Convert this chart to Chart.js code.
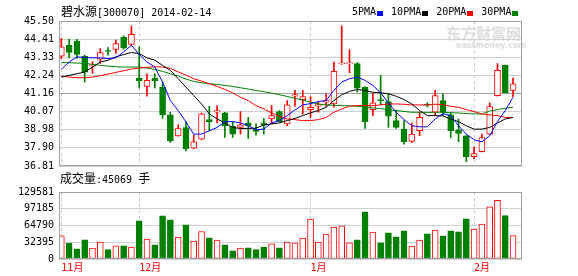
<!DOCTYPE html>
<html><head><meta charset="utf-8">
<script src="https://cdn.jsdelivr.net/npm/chart.js@4.4.0/dist/chart.umd.min.js"></script>
<style>
html,body{margin:0;padding:0;background:#fff;}
#wrap{position:relative;width:578px;height:276px;overflow:hidden;font-family:"DejaVu Sans Mono",monospace;color:#000;}
.t{position:absolute;white-space:nowrap;font-size:10px;line-height:12px;}
.cjk{font-family:"Noto Sans CJK SC";font-size:12px;}
#legend{position:absolute;left:352px;top:6px;display:flex;align-items:center;font-size:10px;line-height:12px;white-space:nowrap;}
#legend .it{display:flex;align-items:center;margin-right:8px;}
#legend .sq{display:inline-block;width:6px;height:5px;margin-left:1px;margin-top:2px;}
.wm{position:absolute;color:#dedede;font-weight:bold;white-space:nowrap;}
.box{position:absolute;left:0;width:578px;}
</style></head><body>
<div id="wrap">
  <div class="wm" style="left:446px;top:24px;font-family:'Noto Sans CJK SC';font-size:15px;line-height:18px;">东方财富网</div>
  <div class="wm" style="left:456px;top:41px;font-family:'DejaVu Sans';font-size:8px;line-height:10px;">eastmoney.com</div>
  <div class="box" style="top:0;height:177px"><canvas id="price"></canvas></div>
  <div class="box" style="top:181px;height:97px"><canvas id="vol"></canvas></div>
  <div class="t" id="title" style="left:61px;top:5px"></div>
  <div id="legend"></div>
  <div class="t" id="voltitle" style="left:60px;top:172px"></div>
</div>
<script>
// ---- data ----
const stockName = '碧水源';
const stockCode = '300070';
const dates = [
 '2013-11-18','2013-11-19','2013-11-20','2013-11-21','2013-11-22','2013-11-25','2013-11-26','2013-11-27','2013-11-28','2013-11-29',
 '2013-12-02','2013-12-03','2013-12-04','2013-12-05','2013-12-06','2013-12-09','2013-12-10','2013-12-11','2013-12-12','2013-12-13',
 '2013-12-16','2013-12-17','2013-12-18','2013-12-19','2013-12-20','2013-12-23','2013-12-24','2013-12-25','2013-12-26','2013-12-27',
 '2013-12-30','2013-12-31',
 '2014-01-02','2014-01-03','2014-01-06','2014-01-07','2014-01-08','2014-01-09','2014-01-10','2014-01-13','2014-01-14','2014-01-15',
 '2014-01-16','2014-01-17','2014-01-20','2014-01-21','2014-01-22','2014-01-23','2014-01-24','2014-01-27','2014-01-28','2014-01-29',
 '2014-01-30',
 '2014-02-07','2014-02-10','2014-02-11','2014-02-12','2014-02-13','2014-02-14'
];
const open  = [43.39,44.05,44.29,43.39,42.82,43.21,43.71,43.79,44.53,44.09, 42.08,41.58,42.08,41.54,39.87,38.62,39.12,37.88,38.42,39.59,
               40.03,39.99,39.18,39.12,39.39,39.02,39.39,39.63,40.07,39.33, 40.99,40.79,40.19,40.39,40.63,40.53,42.93,42.93,42.95,41.54,
               40.19,40.79,40.67,39.53,39.02,38.28,38.92,40.49,40.03,40.73, 39.87,38.98,38.62,37.37,37.67,38.72,41.03,42.84,41.34];
const high  = [44.46,44.41,44.40,43.45,43.06,43.85,43.91,44.35,44.61,45.20, 43.95,42.34,42.34,41.84,40.03,39.27,39.47,38.66,39.99,40.39,
               40.43,40.02,39.47,40.07,39.73,39.33,39.66,40.43,40.13,40.73, 41.34,41.34,40.97,40.67,41.14,43.04,45.20,43.79,43.01,41.56,
               41.17,42.24,41.14,40.17,39.53,39.39,40.03,40.60,41.34,41.14, 40.03,39.63,38.64,37.96,38.72,40.59,42.95,42.86,42.08];
const low   = [43.25,43.29,43.25,41.84,42.36,42.95,43.45,43.55,43.81,44.05, 41.48,40.99,41.48,39.66,38.22,38.60,37.72,37.85,38.38,38.92,
               39.39,38.52,38.52,38.72,38.46,38.66,38.72,39.33,39.45,39.22, 40.39,39.93,39.72,40.03,40.39,40.33,42.90,42.40,41.23,39.06,
               39.83,40.47,39.12,39.06,38.12,38.22,38.62,40.35,39.83,39.83, 38.52,38.26,37.07,37.25,37.65,38.70,41.00,41.18,40.97];
const close = [43.95,43.61,43.49,42.44,42.86,43.61,43.67,44.15,43.89,44.70, 41.92,41.94,41.92,39.87,38.32,39.06,37.85,38.26,39.93,39.47,
               40.13,39.22,38.72,39.27,39.22,38.88,39.27,39.83,39.47,40.47, 41.09,40.97,40.33,40.49,40.73,42.48,42.96,42.96,41.48,39.47,
               40.59,40.73,39.79,39.12,38.26,38.72,39.72,40.45,41.03,40.03, 38.92,38.76,37.37,37.55,38.52,40.37,42.54,41.20,41.74];
const ma5   = [42.60,43.04,43.35,43.31,43.29,43.29,43.25,43.29,43.65,44.05, 43.49,43.04,42.74,41.84,40.73,40.13,39.45,38.72,38.72,38.92,
               39.12,39.47,39.47,39.39,39.22,38.98,39.02,39.39,39.53,39.83, 40.17,40.47,40.55,40.67,40.73,41.34,41.84,42.04,42.14,41.94,
               41.64,41.20,40.59,40.03,39.59,39.22,39.16,39.16,39.63,39.95, 39.83,39.22,38.72,38.38,38.26,38.62,39.47,40.13,40.93];
const ma10  = [42.14,42.24,42.34,42.44,42.74,43.04,43.15,43.35,43.49,43.61, 43.55,43.29,43.15,42.84,42.54,42.04,41.54,41.03,40.53,39.93,
               39.63,39.39,39.12,39.06,39.06,39.08,39.27,39.33,39.39,39.53, 39.66,39.83,40.00,40.13,40.33,40.73,41.08,41.28,41.40,41.34,
               41.23,41.20,41.14,40.99,40.79,40.53,40.13,39.83,39.83,39.81, 39.63,39.47,39.22,39.02,39.02,39.12,39.39,39.63,39.72];
const ma20  = [42.20,42.14,42.10,42.10,42.14,42.22,42.32,42.42,42.52,42.62, 42.68,42.72,42.76,42.74,42.66,42.45,42.26,42.04,41.90,41.74,
               41.58,41.40,41.20,40.93,40.73,40.43,40.23,39.99,39.79,39.63, 39.59,39.53,39.53,39.59,39.72,40.03,40.23,40.39,40.43,40.43,
               40.43,40.47,40.53,40.53,40.51,40.47,40.47,40.47,40.51,40.49, 40.39,40.33,40.19,40.07,39.93,39.87,39.83,39.72,39.72];
const ma30  = [43.01,43.00,42.98,42.96,42.90,42.84,42.80,42.76,42.74,42.74, 42.74,42.68,42.60,42.48,42.34,42.20,42.02,41.88,41.80,41.74,
               41.70,41.64,41.58,41.50,41.42,41.34,41.26,41.18,41.08,40.98, 40.86,40.76,40.63,40.53,40.47,40.45,40.43,40.41,40.39,40.35,
               40.29,40.25,40.18,40.13,40.08,40.03,40.03,40.02,40.03,40.03, 40.00,39.99,39.95,39.93,39.93,40.10,40.19,40.27,40.33];
const volume = [44900,30150,19900,37200,21200,32700,18000,25700,25700,23100, 73800,38500,27600,83400,75700,42300,66100,34600,53200,41100,
                36600,27600,16000,21200,21800,18000,23100,29500,21800,32700, 31400,40400,77000,32700,48100,61600,64200,31400,37200,91100,
                52000,31400,50700,43000,54500,25000,36600,48800,55800,44900, 54500,52600,77600,57700,67400,100700,113500,84000,45069];
const priceTicks = [36.81,37.90,38.98,40.07,41.16,42.24,43.33,44.41,45.50];
const volTicks = [0,32395,64790,97185,129581];
const maNames = ['5PMA','10PMA','20PMA','30PMA'];
const maColors = ['#0000ff','#000000','#ff0000','#008000'];
const maSeries = [ma5, ma10, ma20, ma30];

// ---- derived ----
const UP = '#ff0000', DOWN = '#008000';
const N = dates.length;
const isUp = i => close[i] >= open[i];
const monthStarts = [];
dates.forEach((d, i) => { if (i === 0 || d.slice(0,7) !== dates[i-1].slice(0,7)) monthStarts.push(i); });
const monthLabel = i => parseInt(dates[i].slice(5,7), 10) + '月';

// ---- html texts ----
document.getElementById('title').innerHTML =
  '<span class="cjk">' + stockName + '</span>[' + stockCode + '] ' + dates[N-1];
document.getElementById('voltitle').innerHTML =
  '<span class="cjk">成交量</span>:' + volume[N-1] + ' <span class="cjk">手</span>';
document.getElementById('legend').innerHTML = maNames.map((n, k) =>
  '<span class="it">' + n + '<span class="sq" style="background:' + maColors[k] + '"></span></span>').join('');

// ---- charts ----
const XMIN = -0.3, XMAX = N - 1 + 1.15;
const FONT = {family: 'DejaVu Sans Mono', size: 10};

const frame = {
  id: 'frame',
  afterDraw(c) {
    const a = c.chartArea, ctx = c.ctx;
    ctx.save();
    ctx.strokeStyle = '#a0a0a0';
    ctx.lineWidth = 1;
    ctx.strokeRect(Math.round(a.left) + 0.5, Math.round(a.top) + 0.5,
                   Math.round(a.right - a.left) - 1, Math.round(a.bottom - a.top) - 1);
    ctx.restore();
  }
};

const xBase = (showLabels) => ({
  type: 'linear', min: XMIN, max: XMAX, offset: false,
  grid: {color: '#c8c8c8', lineWidth: 1, drawTicks: false, offset: false},
  border: {display: false, dash: [3, 3]},
  afterBuildTicks: s => { s.ticks = monthStarts.map(v => ({value: v})); },
  ticks: showLabels ? {
    display: true, color: '#ff0000', align: 'start', padding: 3, autoSkip: false, maxRotation: 0,
    font: {family: "DejaVu Sans Mono, 'Noto Sans CJK SC'", size: 10},
    callback: v => monthLabel(v)
  } : {display: false},
  afterFit: s => { s.height = showLabels ? 19 : 0; }
});

const candleIdx = dates.map((d, i) => i);

new Chart(document.getElementById('price'), {
  type: 'bar',
  data: {
    datasets: [
      ...maSeries.map((arr, k) => ({
        type: 'line', label: maNames[k], data: arr.map((v, i) => ({x: i, y: v})),
        borderColor: maColors[k], borderWidth: 1, pointRadius: 0, tension: 0, order: 1
      })),
      {
        type: 'bar', label: 'body', grouped: false, order: 2,
        data: candleIdx.map(i => ({x: i, y: [open[i], close[i]]})),
        backgroundColor: candleIdx.map(i => isUp(i) ? '#ffffff' : DOWN),
        borderColor: candleIdx.map(i => isUp(i) ? UP : DOWN),
        borderWidth: 1, borderSkipped: false, barThickness: 6, minBarLength: 1
      },
      {
        type: 'bar', label: 'wick', grouped: false, order: 3,
        data: candleIdx.map(i => ({x: i, y: [low[i], high[i]]})),
        backgroundColor: candleIdx.map(i => isUp(i) ? UP : DOWN),
        borderWidth: 0, borderSkipped: false, barThickness: 1
      }
    ]
  },
  options: {
    responsive: true, maintainAspectRatio: false, animation: false,
    layout: {padding: {top: 21, right: 56, bottom: 2, left: 0}},
    plugins: {legend: {display: false}, tooltip: {enabled: false}},
    scales: {
      x: xBase(false),
      y: {
        min: priceTicks[0], max: priceTicks[priceTicks.length - 1],
        afterBuildTicks: s => { s.ticks = priceTicks.map(v => ({value: v})); },
        afterFit: s => { s.width = 59; },
        ticks: {callback: v => v.toFixed(2), color: '#000', font: FONT, padding: 5, autoSkip: false},
        grid: {color: c => c.index === 4 ? '#a0a0a0' : '#d0d0d0', drawTicks: false},
        border: {display: false}
      }
    }
  },
  plugins: [frame]
});

new Chart(document.getElementById('vol'), {
  type: 'bar',
  data: {
    datasets: [{
      label: 'volume', grouped: false,
      data: volume.map((v, i) => ({x: i, y: v})),
      backgroundColor: candleIdx.map(i => isUp(i) ? '#ffffff' : DOWN),
      borderColor: candleIdx.map(i => isUp(i) ? UP : DOWN),
      borderWidth: 1, borderSkipped: false, barThickness: 6
    }]
  },
  options: {
    responsive: true, maintainAspectRatio: false, animation: false,
    layout: {padding: {top: 7, right: 56, bottom: 0, left: 0}},
    plugins: {legend: {display: false}, tooltip: {enabled: false}},
    scales: {
      x: xBase(true),
      y: {
        min: 0, max: volTicks[volTicks.length - 1],
        afterBuildTicks: s => { s.ticks = volTicks.map(v => ({value: v})); },
        afterFit: s => { s.width = 59; },
        ticks: {callback: v => String(v), color: '#000', font: FONT, padding: 5, autoSkip: false},
        grid: {color: '#d0d0d0', drawTicks: false},
        border: {display: false}
      }
    }
  },
  plugins: [frame]
});
</script>
</body></html>
